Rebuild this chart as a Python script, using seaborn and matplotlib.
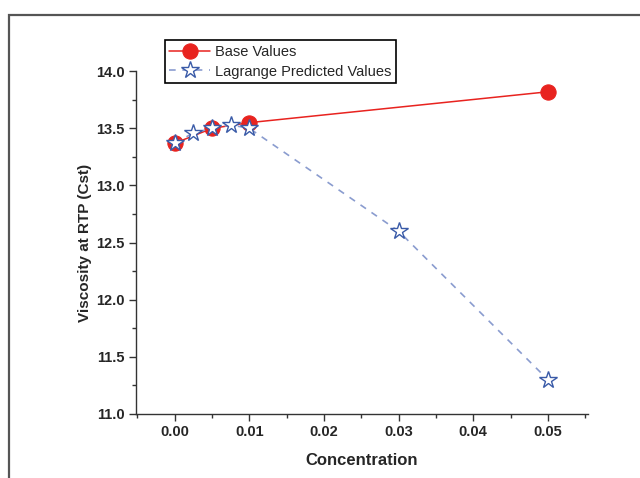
import matplotlib
matplotlib.use("Agg")
import matplotlib.pyplot as plt
import seaborn as sns
import pandas as pd
from matplotlib.patches import Rectangle
from matplotlib.ticker import MultipleLocator

base_x = [0.0, 0.005, 0.01, 0.05]
base_y = [13.37, 13.50, 13.55, 13.82]
lag_x = [0.0, 0.0025, 0.005, 0.0075, 0.01, 0.03, 0.05]
lag_y = [13.37, 13.46, 13.50, 13.53, 13.50, 12.60, 11.30]
x_ticks = [0.00, 0.01, 0.02, 0.03, 0.04, 0.05]
y_ticks = [11.0, 11.5, 12.0, 12.5, 13.0, 13.5, 14.0]

sns.set_style("ticks")
plt.rcParams['font.family'] = ['Liberation Sans', 'DejaVu Sans']

fig = plt.figure(figsize=(6.4, 4.78), dpi=100)
ax = fig.add_axes([0.2125, 0.134, 0.7065, 0.717])

base_df = pd.DataFrame({"x": base_x, "y": base_y})
lag_df = pd.DataFrame({"x": lag_x, "y": lag_y})

sns.lineplot(data=base_df, x="x", y="y", ax=ax, color="#e8231f", lw=1.1,
             marker="o", markersize=11, markerfacecolor="#e8231f",
             markeredgecolor="#e8231f", label="Base Values", zorder=2)
sns.lineplot(data=lag_df, x="x", y="y", ax=ax, color="#8a9ccf", lw=1.2,
             linestyle=(0, (4, 4)), marker="*", markersize=13,
             markerfacecolor="white", markeredgecolor="#3a5ba8",
             markeredgewidth=1.0, label="Lagrange Predicted Values", zorder=3)

ax.set_xlim(-0.0052, 0.0554)
ax.set_ylim(11.0, 14.0)
ax.set_xticks(x_ticks)
ax.set_xticklabels([f"{v:.2f}" for v in x_ticks])
ax.set_yticks(y_ticks)
ax.set_yticklabels([f"{v:.1f}" for v in y_ticks])
ax.xaxis.set_minor_locator(MultipleLocator(0.005))
ax.yaxis.set_minor_locator(MultipleLocator(0.25))
ax.tick_params(axis='both', which='major', direction='out', length=5, width=1,
               color='#333333', labelsize=10.5, pad=3)
ax.tick_params(axis='both', which='minor', direction='out', length=3, width=1,
               color='#333333')
for lbl in ax.get_xticklabels() + ax.get_yticklabels():
    lbl.set_fontweight('bold')
sns.despine(ax=ax)
for s in ['left', 'bottom']:
    ax.spines[s].set_color('#333333')
    ax.spines[s].set_linewidth(1.0)

ax.set_xlabel("Concentration", fontsize=12, fontweight='bold', labelpad=10)
ax.set_ylabel("Viscosity at RTP (Cst)", fontsize=11, fontweight='bold', labelpad=3)

leg = ax.legend(loc='upper left', bbox_to_anchor=(0.064, 1.09), fontsize=10.5,
                frameon=True, fancybox=False, framealpha=1, edgecolor='black',
                handlelength=2.8, handletextpad=0.35, borderpad=0.3,
                labelspacing=0.4, borderaxespad=0)
leg.get_frame().set_linewidth(1.2)

fig.patches.append(Rectangle((9/640, -0.1), 1.2, 1 - 15/478 + 0.1,
                             transform=fig.transFigure, fill=False,
                             edgecolor='#555555', lw=1.6, zorder=0))

fig.savefig("out.png", dpi=100)
